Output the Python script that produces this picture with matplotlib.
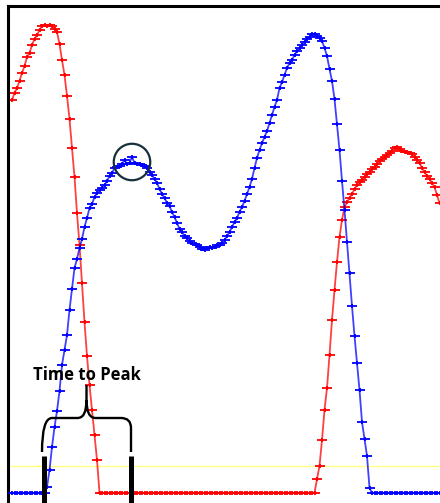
import matplotlib.pyplot as plt
from matplotlib.path import Path
from matplotlib.patches import PathPatch

# Velocity traces, one sample per frame (arbitrary amplitude units)
red_trace = [
    393, 400, 405, 412, 420, 427, 436, 440, 448, 454,
    458, 463, 467, 468, 467, 468, 467, 464, 461, 449,
    433, 418, 397, 374, 345, 316, 280, 248, 210, 171,
    137, 108, 83, 58, 33,
    0, 0, 0, 0, 0, 0, 0, 0, 0, 0, 0, 0, 0, 0, 0, 0, 0, 0, 0, 0, 0, 0,
    0, 0, 0, 0, 0, 0, 0, 0, 0, 0, 0, 0, 0, 0, 0, 0, 0, 0, 0, 0, 0, 0,
    0, 0, 0, 0, 0, 0, 0, 0, 0, 0, 0, 0, 0, 0, 0, 0, 0, 0, 0, 0, 0, 0,
    0, 0, 0, 0, 0, 0, 0, 0, 0, 0, 0, 0, 0, 0, 0, 0, 0, 0, 0, 0, 0,
    14, 27, 53, 83, 105, 138, 173, 203, 231, 256,
    273, 286, 291, 295, 299, 304, 308, 311, 313, 316,
    319, 321, 324, 326, 329, 332, 334, 336, 338, 340,
    342, 345, 346, 344, 342, 341, 341, 340, 339, 336,
    333, 330, 325, 321, 317, 314, 310, 306, 298, 290,
]

blue_trace = [
    0, 0, 0, 0, 0, 0, 0, 0, 0, 0, 0, 0, 0, 0,
    6, 23, 46, 66, 82, 102, 128, 143, 158, 183,
    204, 225, 234, 245, 254, 266, 275, 285, 289, 296,
    300, 303, 305, 308, 312, 317, 320, 325, 326, 327,
    329, 333, 329, 330, 336, 330, 329, 329, 328, 327,
    325, 321, 318, 314, 310, 304, 299, 295, 290, 287,
    281, 276, 270, 264, 261, 257, 255, 252, 250, 249,
    248, 246, 244, 243, 245, 246, 245, 246, 248, 248,
    250, 253, 257, 261, 266, 271, 275, 281, 286, 292,
    299, 306, 314, 325, 335, 343, 350, 356, 362, 370,
    378, 386, 393, 405, 411, 418, 425, 430, 433, 438,
    442, 445, 448, 451, 454, 456, 459, 459, 457, 455,
    452, 445, 437, 424, 412, 394, 369, 343, 312, 283,
    251, 220, 187, 157, 130, 103, 71, 54, 37, 5,
    0, 0, 0, 0, 0, 0, 0, 0, 0, 0, 0, 0, 0, 0,
    0, 0, 0, 0, 0, 0, 0, 0, 0, 0, 0, 0, 0, 0,
]

frames = list(range(len(blue_trace)))

threshold = 27      # detection level
onset_frame = 13    # blue trace leaves baseline
peak_frame = 48     # first blue peak

fig = plt.figure(figsize=(4.4, 5.03), dpi=100)
ax = fig.add_axes([8 / 440, 0, 432 / 440, 497 / 503])

# wide, short "+" marker
tick = Path([(-1, 0), (1, 0), (0, -0.5), (0, 0.5)],
            [Path.MOVETO, Path.LINETO, Path.MOVETO, Path.LINETO])

ax.axhline(threshold, color='#ffff80', lw=1.0, zorder=1)

ax.plot(frames, red_trace, color=(1, 0, 0, 0.75), lw=1.3,
        marker=tick, ms=6.5, mec='#ff0000', mew=1.3, zorder=2)
ax.plot(frames, blue_trace, color=(0, 0, 1, 0.75), lw=1.3,
        marker=tick, ms=6.5, mec='#0000ff', mew=1.3, zorder=3)

# circle around the first peak
ax.scatter([peak_frame], [blue_trace[peak_frame] - 5], s=690,
           facecolors='none', edgecolors='#15303a', linewidths=1.6, zorder=4)

# onset / peak bars
ax.vlines([onset_frame - 0.2, peak_frame - 0.4], -10, 37, color='black',
          lw=3.6, zorder=5)

# curly brace spanning onset to peak
x0, x1 = onset_frame - 1, peak_frame - 0.4
xm = (x0 + x1) / 2
verts = [
    (x0, 41), (x0, 75), (x0 + 4, 75),
    (xm - 3.6, 75),
    (xm, 75), (xm, 93),
    (xm, 108),
    (xm, 93),
    (xm, 75), (xm + 3.6, 75),
    (x1 - 4, 75),
    (x1, 75), (x1, 65),
    (x1, 41),
]
codes = [
    Path.MOVETO, Path.CURVE3, Path.CURVE3,
    Path.LINETO,
    Path.CURVE3, Path.CURVE3,
    Path.LINETO,
    Path.MOVETO,
    Path.CURVE3, Path.CURVE3,
    Path.LINETO,
    Path.CURVE3, Path.CURVE3,
    Path.LINETO,
]
ax.add_patch(PathPatch(Path(verts, codes), facecolor='none',
                       edgecolor='black', lw=1.7, zorder=5))

ax.text(xm, 118, 'Time to Peak', ha='center', va='center',
        fontsize=12, fontweight='bold', family='Open Sans', zorder=6)

ax.set_xlim(-1.6, 171.2)
ax.set_ylim(-10, 487)
ax.set_xticks([])
ax.set_yticks([])
for side in ('right', 'bottom'):
    ax.spines[side].set_visible(False)
for side in ('left', 'top'):
    ax.spines[side].set_linewidth(2.2)

fig.savefig('out.png', dpi=100)
